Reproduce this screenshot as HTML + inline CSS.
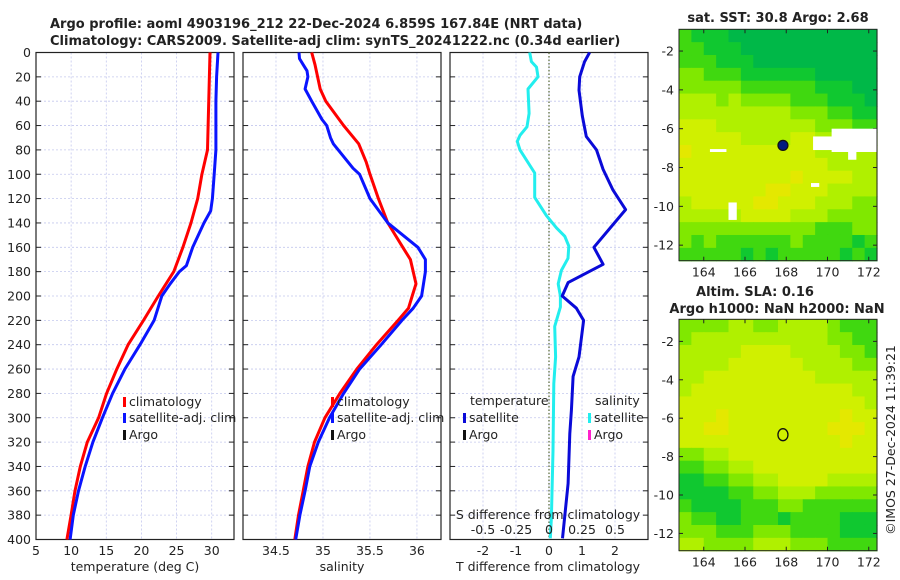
<!DOCTYPE html>
<html><head><meta charset="utf-8">
<style>
html,body{margin:0;padding:0;background:#fff;}
#root{position:relative;width:900px;height:580px;overflow:hidden;font-family:"Liberation Sans","DejaVu Sans",sans-serif;}
svg text{font-family:"DejaVu Sans","Liberation Sans",sans-serif;}
</style></head>
<body>
<div id="root">
<svg id="svg" width="900" height="580" xmlns="http://www.w3.org/2000/svg"></svg>
</div>
<script>
// ---- data ----
const tempClimDepth = [0,80,100,120,140,160,180,200,220,240,260,280,300,320,340,360,380,400];
const tempClimVal   = [29.75,29.4,28.6,28.0,27.05,25.9,24.6,22.4,20.3,18.1,16.5,15.05,13.9,12.3,11.3,10.55,10.0,9.4];
const tempSatDepth  = [0,20,40,80,100,120,130,140,160,175,180,190,200,220,240,260,280,300,320,340,360,380,400];
const tempSatVal    = [30.9,30.7,30.6,30.6,30.35,30.1,29.85,28.9,27.3,26.4,25.4,24.1,22.9,21.8,19.8,17.65,15.9,14.45,13.1,12.0,11.05,10.3,9.85];
const salClimDepth  = [0,10,30,40,60,75,90,100,120,140,150,160,170,190,200,210,220,240,260,280,300,320,340,360,380,400];
const salClimVal    = [34.88,34.915,34.97,35.03,35.22,35.38,35.46,35.5,35.59,35.69,35.77,35.85,35.93,35.99,35.95,35.91,35.80,35.57,35.36,35.18,35.02,34.91,34.84,34.79,34.74,34.70];
const salSatDepth   = [0,5,10,15,20,30,40,55,60,70,75,95,100,120,140,160,170,180,200,210,220,240,260,280,300,320,340,360,380,400];
const salSatVal     = [34.745,34.75,34.79,34.83,34.84,34.81,34.88,34.99,35.04,35.08,35.11,35.32,35.39,35.5,35.69,36.01,36.09,36.09,36.05,35.96,35.84,35.62,35.39,35.22,35.07,34.95,34.86,34.81,34.755,34.71];
const tDiffDepth    = [0,7.5,20,31,52,69,80,96,113,129,160,174,189,200,210,220,250,266,294,313,354,399];
const tDiffVal      = [1.23,1.08,0.93,0.91,1.01,1.13,1.44,1.64,1.94,2.32,1.36,1.64,0.58,0.40,0.83,1.05,0.91,0.73,0.68,0.63,0.58,0.41];
const sDiffDepth    = [0,7.5,12,20,30,50,61,68,73,80,99,119,134,144,151,159,169,179,190,200,209,225,250,272,327,382,399];
const sDiffVal      = [-0.146,-0.133,-0.095,-0.083,-0.159,-0.151,-0.167,-0.22,-0.24,-0.22,-0.108,-0.108,-0.02,0.056,0.12,0.15,0.144,0.094,0.07,0.086,0.086,0.043,0.05,0.036,0.03,0.018,0.01];
const depthTicks    = [0,20,40,60,80,100,120,140,160,180,200,220,240,260,280,300,320,340,360,380,400];
const tempTicks     = [5,10,15,20,25,30];
const salTicks      = [34.5,35,35.5,36];
const tDiffTicks    = [-2,-1,0,1,2];
const sDiffTicks    = [-0.5,-0.25,0,0.25,0.5];
const lonTicks      = [164,166,168,170,172];
const latTicks      = [-2,-4,-6,-8,-10,-12];
const sstGrid = [
"2111000000000000","2211100000000000","2221110000000000","3322211111100000",
"3333322222211100","4443433332221110","4444444443332211","5554444444433322",
"5555544445544433","6555555555544444","5555555555554444","5555555556555544",
"5555555665554444","4555556655544433","4444455554443333","3333333333322233",
"3232222223222212","2222212122222121"];
const slaGrid = [
"3333443344443222","3444444444443322","4444455554444332","4444555555444433",
"4455555555544444","4555555555555544","5555555555555554","5556555555555655",
"5566555555556665","5555555555555655","3344555555555555","2233445555555555",
"1122334455554444","1111223344433333","2111122233222222","3221122212222111",
"3332223332222111","4433334443332222"];
const argoLon = 167.84, argoLat = -6.86;

// ---- helpers ----
const NS="http://www.w3.org/2000/svg";
const svg=document.getElementById('svg');
function mk(tag,attrs,parent){const e=document.createElementNS(NS,tag);for(const k in attrs)e.setAttribute(k,attrs[k]);(parent||svg).appendChild(e);return e;}
function txt(x,y,s,size,anchor,weight,parent,fill){const t=mk('text',{x:x,y:y,'font-size':size,'text-anchor':anchor||'middle','font-weight':weight||'normal',fill:fill||'#222'},parent);t.textContent=s;return t;}
const Y0=52.5,Y1=539.5;
const yD=d=>Y0+(d/400)*(Y1-Y0);

function panel(x0,x1,vmin,vmax,ticks,name){
  const g=mk('g',{});
  
  
  const sx=v=>x0+(v-vmin)/(vmax-vmin)*(x1-x0);
  ticks.forEach(v=>{mk('line',{x1:sx(v),x2:sx(v),y1:Y0,y2:Y1,stroke:'#c4c8ee','stroke-width':0.8,'stroke-dasharray':'2,2'},g);});
  depthTicks.forEach(d=>{
    mk('line',{x1:x0,x2:x1,y1:yD(d),y2:yD(d),stroke:'#c4c8ee','stroke-width':0.8,'stroke-dasharray':'2,2'},g);
    mk('line',{x1:x0,x2:x0+5,y1:yD(d),y2:yD(d),stroke:'#222','stroke-width':1},g);
    mk('line',{x1:x1-5,x2:x1,y1:yD(d),y2:yD(d),stroke:'#222','stroke-width':1},g);
  });
  mk('rect',{x:x0,y:Y0,width:x1-x0,height:Y1-Y0,fill:'none',stroke:'#222','stroke-width':1.2},g);
  return {g,sx};
}
function line(g,sx,depths,vals,color,name){
  const pts=depths.map((d,i)=>sx(vals[i]).toFixed(1)+','+yD(d).toFixed(1)).join(' ');
  const p=mk('polyline',{points:pts,fill:'none',stroke:color,'stroke-width':3,'stroke-linejoin':'round'},g);
  
  
}
function legendEntry(g,x,y,color,label,name){
  const e=mk('g',{},g);
  
  
  if(color) mk('rect',{x:x,y:y-9,width:3,height:10,fill:color},e);
  txt(x+6,y,label,12.5,'start','normal',e);
}

// titles
const t1=txt(50,28,'Argo profile: aoml 4903196_212 22-Dec-2024 6.859S 167.84E (NRT data)',13,'start','bold');

const t2=txt(50,45,'Climatology: CARS2009. Satellite-adj clim: synTS_20241222.nc (0.34d earlier)',13,'start','bold');


// panel 1 temperature
const p1=panel(36,234,5,33.17,tempTicks,'temperature-panel');
depthTicks.forEach(d=>txt(31,yD(d)+4.5,String(d),12.5,'end','normal',p1.g));
tempTicks.forEach(v=>txt(p1.sx(v),555,String(v),12.5,'middle','normal',p1.g));
txt(135,571,'temperature (deg C)',12.5,'middle','normal',p1.g);
line(p1.g,p1.sx,tempClimDepth,tempClimVal,'#ff0000','temp-climatology-line');
line(p1.g,p1.sx,tempSatDepth,tempSatVal,'#0a14ff','temp-satellite-line');
legendEntry(p1.g,123,406,'#ff0000','climatology','legend-climatology');
legendEntry(p1.g,123,422,'#0a14ff','satellite-adj. clim','legend-satellite');
legendEntry(p1.g,123,439,'#111','Argo','legend-argo');

// panel 2 salinity
const p2=panel(243,441,34.149,36.256,salTicks,'salinity-panel');
salTicks.forEach(v=>txt(p2.sx(v),555,String(v),12.5,'middle','normal',p2.g));
txt(342,571,'salinity',12.5,'middle','normal',p2.g);
line(p2.g,p2.sx,salClimDepth,salClimVal,'#ff0000','sal-climatology-line');
line(p2.g,p2.sx,salSatDepth,salSatVal,'#0a14ff','sal-satellite-line');
legendEntry(p2.g,331,406,'#ff0000','climatology','legend-climatology-2');
legendEntry(p2.g,331,422,'#0a14ff','satellite-adj. clim','legend-satellite-2');
legendEntry(p2.g,331,439,'#111','Argo','legend-argo-2');

// panel 3 differences
const p3=panel(450,648,-3,3,tDiffTicks,'difference-panel');
const sxS=v=>450+(v+0.75)/1.5*198;
mk('line',{x1:p3.sx(0),x2:p3.sx(0),y1:Y0,y2:Y1,stroke:'#556633','stroke-width':1.2,'stroke-dasharray':'1.5,2'},p3.g);
tDiffTicks.forEach(v=>txt(p3.sx(v),555,String(v),12.5,'middle','normal',p3.g));
txt(548,571,'T difference from climatology',12.5,'middle','normal',p3.g);
line(p3.g,sxS,sDiffDepth,sDiffVal,'#22eeee','sal-diff-line');
line(p3.g,p3.sx,tDiffDepth,tDiffVal,'#0a0ad8','temp-diff-line');
txt(548,519,'S difference from climatology',12.5,'middle','normal',p3.g);
sDiffTicks.forEach(v=>txt(sxS(v),534,String(v),12.5,'middle','normal',p3.g));
txt(470,405,'temperature',12.5,'start','normal',p3.g);
legendEntry(p3.g,463,422,'#0a0ad8','satellite','legend-t-satellite');
legendEntry(p3.g,463,439,'#111','Argo','legend-t-argo');
txt(595,405,'salinity',12.5,'start','normal',p3.g);
legendEntry(p3.g,588,422,'#22eeee','satellite','legend-s-satellite');
legendEntry(p3.g,588,439,'#ff22cc','Argo','legend-s-argo');

// maps
const palette=['#00b848','#10c830','#40d810','#80e800','#b0f000','#d0f000','#e4e800'];
function map(y0,y1,latTop,latBot,grid,name){
  const x0=679,x1=877,lonL=162.8,lonR=172.4;
  const g=mk('g',{});
  
  
  const mx=l=>x0+(l-lonL)/(lonR-lonL)*(x1-x0);
  const my=l=>y0+(latTop-l)/(latTop-latBot)*(y1-y0);
  const rows=grid.length,cols=grid[0].length,cw=(x1-x0)/cols,ch=(y1-y0)/rows;
  grid.forEach((r,i)=>{for(let j=0;j<cols;j++){mk('rect',{x:x0+j*cw,y:y0+i*ch,width:cw+0.6,height:ch+0.6,fill:palette[+r[j]]},g);}});
  lonTicks.forEach(l=>{txt(mx(l),y1+16,String(l),12.5,'middle','normal',g);
    mk('line',{x1:mx(l),x2:mx(l),y1:y1,y2:y1-4,stroke:'#222'},g);mk('line',{x1:mx(l),x2:mx(l),y1:y0,y2:y0+4,stroke:'#222'},g);});
  latTicks.forEach(l=>{txt(x0-5,my(l)+4.5,String(l),12.5,'end','normal',g);
    mk('line',{x1:x0,x2:x0+4,y1:my(l),y2:my(l),stroke:'#222'},g);mk('line',{x1:x1,x2:x1-4,y1:my(l),y2:my(l),stroke:'#222'},g);});
  return {g,mx,my,x0,x1,y0,y1};
}
const m1=map(29.3,260.7,-0.88,-12.8,sstGrid,'sst-map');
// cloud gaps
[[170.2,172.4,-6.0,-7.2],[169.3,170.3,-6.4,-7.1],[171.0,171.4,-7.1,-7.6],[164.3,165.1,-7.05,-7.2],[165.2,165.6,-9.8,-10.7],[169.2,169.6,-8.8,-9.0]].forEach(r=>{
  mk('rect',{x:m1.mx(r[0]),y:m1.my(r[2]),width:m1.mx(r[1])-m1.mx(r[0]),height:m1.my(r[3])-m1.my(r[2]),fill:'#fff'},m1.g);
});
mk('rect',{x:m1.x0,y:m1.y0,width:m1.x1-m1.x0,height:m1.y1-m1.y0,fill:'none',stroke:'#222','stroke-width':1},m1.g);
const a1=mk('circle',{cx:m1.mx(argoLon),cy:m1.my(argoLat),r:5,fill:'#001a80',stroke:'#111','stroke-width':1.2},m1.g);

txt(778,22,'sat. SST: 30.8 Argo: 2.68',13,'middle','bold',m1.g);

const m2=map(319.3,550.7,-0.85,-12.9,slaGrid,'sla-map');
mk('rect',{x:m2.x0,y:m2.y0,width:m2.x1-m2.x0,height:m2.y1-m2.y0,fill:'none',stroke:'#222','stroke-width':1},m2.g);
const a2=mk('ellipse',{cx:m2.mx(argoLon),cy:m2.my(argoLat),rx:5,ry:6,fill:'none',stroke:'#111','stroke-width':1.3},m2.g);

txt(755,296,'Altim. SLA: 0.16',13,'middle','bold',m2.g);
txt(777,313,'Argo h1000: NaN h2000: NaN',13,'middle','bold',m2.g);

const cr=txt(0,0,'©IMOS 27-Dec-2024 11:39:21',12.5,'middle','normal');
cr.setAttribute('transform','translate(895,440) rotate(-90)');


</script>
</body></html>
